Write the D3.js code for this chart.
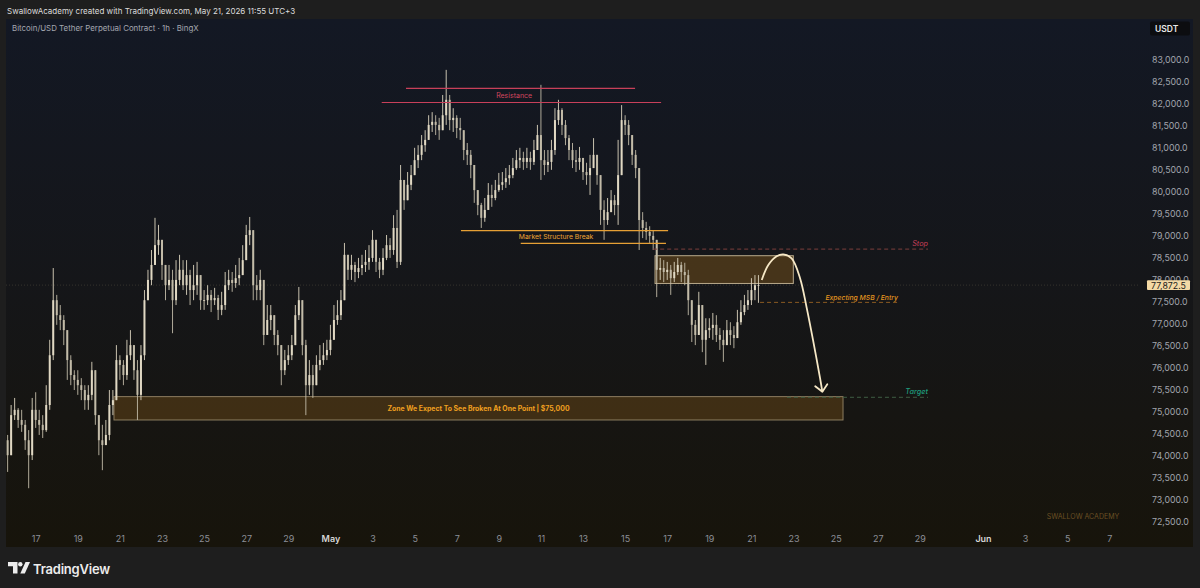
<!DOCTYPE html>
<html>
<head>
<meta charset="utf-8">
<script src="https://cdn.jsdelivr.net/npm/d3@7"></script>
<style>
  html, body { margin: 0; padding: 0; background: #1e1e1e; }
  svg { display: block; font-family: Inter, "Noto Sans", sans-serif; }
</style>
</head>
<body>
<svg id="chart" width="1200" height="588"></svg>
<script>
// 4h bars, first one opens Apr 15 12:00
const firstBar = '2026-04-15T12:00Z';
const barHours = 4;

const closes = [
  74350, 74010, 74920, 75040, 74810, 74700, 74350, 74010, 75040, 74810,
  74700, 74580, 75150, 76280, 77530, 77190, 77080, 76850, 76170, 75830,
  75720, 75600, 75490, 75260, 75380, 75940, 74920, 74350, 74240, 74470,
  75150, 75260, 76170, 76060, 75830, 76280, 76510, 75940, 75380, 76280,
  77530, 77990, 78330, 78780, 78900, 78330, 77870, 77990, 77530, 77990,
  78220, 77870, 78100, 77760, 77870, 78100, 77530, 77530, 77650, 77530,
  77580, 77310, 77420, 77870, 77990, 77920, 78030, 78100, 78440, 79010,
  79120, 77870, 77760, 77990, 76740, 77080, 77190, 76740, 76510, 75940,
  76170, 76280, 76510, 77190, 77530, 76510, 75600, 75830, 75600, 76060,
  76170, 76280, 76400, 76630, 77080, 77190, 77530, 78560, 78220, 78330,
  78170, 78260, 78330, 78400, 78490, 78900, 78400, 78220, 78490, 78780,
  78670, 79170, 78400, 80260, 79800, 80150, 80370, 80710, 80830, 81050,
  81170, 81510, 81580, 81510, 81390, 81730, 82080, 81620, 81670, 81440,
  81390, 80940, 80830, 80600, 80030, 79690, 79400, 79580, 79920, 79850,
  80030, 80150, 80210, 80300, 80370, 80530, 80710, 80760, 80670, 80760,
  80670, 80940, 81280, 80710, 80600, 80670, 80940, 81620, 81850, 81510,
  81210, 80940, 80710, 80670, 80760, 80440, 80370, 80530, 80830, 80370,
  79580, 79350, 79530, 79800, 79690, 80370, 81620, 81510, 81280, 80830,
  80530, 79350, 79170, 79080, 78990, 78900, 78220, 78260, 78170, 78220,
  78030, 78170, 78330, 78170, 78100, 77530, 76970, 76740, 77420, 76630,
  76850, 76900, 76970, 76740, 76630, 76510, 76850, 76740, 76670, 77030,
  77260, 77420, 77530, 77760, 77870, 77872.5
];

const highs = [
  74700, 74470, 75150, 75310, 75080, 75040, 74810, 74580, 75310, 75440,
  75040, 74920, 75600, 76630, 78260, 77650, 77420, 77190, 76510, 76280,
  75940, 75940, 75760, 75600, 75600, 76130, 75830, 74810, 74700, 74810,
  75490, 75490, 76510, 76280, 76170, 76630, 76850, 76400, 76170, 76510,
  77760, 78220, 78670, 79400, 79240, 78780, 78330, 78330, 78220, 78440,
  78560, 78440, 78440, 78220, 78330, 78400, 77990, 77760, 77870, 77760,
  77810, 77650, 77720, 78170, 78220, 78170, 78330, 78490, 78780, 79240,
  79420, 78900, 78100, 78220, 77990, 77420, 77420, 77080, 76850, 76510,
  76400, 76510, 76740, 77420, 77830, 77310, 76630, 76170, 76060, 76280,
  76510, 76560, 76630, 76970, 77420, 77530, 77760, 78830, 78560, 78560,
  78400, 78490, 78560, 78670, 78780, 79120, 78900, 78490, 78710, 79010,
  78940, 79460, 79580, 80600, 80260, 80440, 80600, 80990, 81050, 81280,
  81390, 81730, 81800, 81730, 81670, 82190, 82760, 82190, 81890, 81730,
  81670, 81390, 81100, 80940, 80370, 80030, 79740, 79850, 80190, 80150,
  80260, 80420, 80440, 80530, 80600, 80760, 80940, 80990, 80900, 80990,
  80900, 81170, 81510, 82420, 80940, 80940, 81170, 81890, 82080, 81890,
  81620, 81280, 81100, 80940, 81010, 80710, 80650, 80830, 81210, 80830,
  80370, 79800, 79850, 80030, 79920, 81170, 81960, 81730, 81620, 81170,
  80940, 80490, 79530, 79310, 79210, 79120, 78780, 78490, 78440, 78400,
  78330, 78400, 78490, 78400, 78380, 78220, 77530, 77080, 77720, 77420,
  77120, 77120, 77240, 77190, 76900, 76850, 77080, 77030, 76940, 77310,
  77530, 77650, 77760, 78030, 78100, 78100
];

const lows = [
  74130, 73630, 74010, 74810, 74630, 74540, 74130, 73260, 73900, 74630,
  74470, 74400, 74540, 75040, 76170, 76970, 76850, 76510, 75720, 75600,
  75490, 75380, 75260, 75040, 75040, 75260, 74700, 74010, 73670, 74240,
  74350, 74920, 75260, 75720, 75600, 75720, 76170, 75720, 74810, 75260,
  76170, 77530, 77870, 78330, 78560, 77990, 77530, 77760, 76780, 77420,
  77870, 77760, 77650, 77420, 77530, 77650, 77310, 77310, 77420, 77260,
  77420, 77080, 77190, 77310, 77760, 77720, 77810, 77870, 78100, 78440,
  78780, 77530, 77530, 77530, 76510, 76740, 76850, 76510, 76280, 75600,
  75830, 76060, 76170, 76510, 77080, 76280, 74920, 75380, 75310, 75720,
  75940, 76060, 76170, 76280, 76740, 76970, 77080, 77530, 77990, 77990,
  77940, 78030, 78100, 78170, 78220, 78400, 78170, 78030, 78100, 78440,
  78490, 78560, 78260, 78330, 79580, 79800, 80030, 80440, 80530, 80710,
  80900, 81170, 81350, 81280, 81170, 81390, 81510, 81390, 81350, 81210,
  81170, 80710, 80600, 80300, 79740, 79460, 79170, 79310, 79620, 79650,
  79800, 79990, 80030, 80080, 80150, 80300, 80490, 80530, 80490, 80530,
  80490, 80600, 80940, 80260, 80370, 80440, 80490, 80830, 81510, 81280,
  81050, 80710, 80530, 80440, 80490, 80260, 80150, 79920, 80600, 80150,
  79240, 78900, 79240, 79530, 79460, 79240, 80710, 81280, 81050, 80600,
  80300, 78670, 78940, 78900, 78830, 78670, 77600, 77990, 77940, 77990,
  77650, 77940, 78100, 77940, 77870, 77190, 76580, 76510, 76850, 76350,
  76060, 76670, 76630, 76580, 76400, 76130, 76630, 76510, 76440, 76740,
  76970, 77190, 77310, 77420, 77530, 77470
];
const firstOpen = 74500;
const lastPrice = 77872.5;

const priceTicks = d3.range(72500, 83001, 500);
const dateTicks = [
  '2026-04-17', '2026-04-19', '2026-04-21', '2026-04-23', '2026-04-25', '2026-04-27', '2026-04-29',
  '2026-05-01', '2026-05-03', '2026-05-05', '2026-05-07', '2026-05-09', '2026-05-11', '2026-05-13',
  '2026-05-15', '2026-05-17', '2026-05-19', '2026-05-21', '2026-05-23', '2026-05-25', '2026-05-27',
  '2026-05-29', '2026-06-01', '2026-06-03', '2026-06-05', '2026-06-07'
];

const resistanceLevels = [
  { from: '2026-05-04T14:10Z', to: '2026-05-15T11:20Z', price: 82340 },
  { from: '2026-05-03T10:30Z', to: '2026-05-16T17:00Z', price: 82020 }
];
const resistanceLabel = { text: 'Resistance', at: '2026-05-09T17:30Z', price: 82180 };

const msbLevels = [
  { from: '2026-05-07T04:50Z', to: '2026-05-17T01:00Z', price: 79110 },
  { from: '2026-05-10T01:00Z', to: '2026-05-16T22:35Z', price: 78820 }
];
const msbLabel = { text: 'Market Structure Break', at: '2026-05-11T17:15Z', price: 78965 };

const supplyBox = { from: '2026-05-16T10:05Z', to: '2026-05-22T23:45Z', top: 78540, bottom: 77910 };
const targetZone = {
  from: '2026-04-20T17:15Z', to: '2026-05-25T08:25Z', top: 75340, bottom: 74810,
  text: 'Zone We Expect To See Broken At One Point | $75,000'
};

const tradeLines = [
  { name: 'Stop', from: '2026-05-16T08:00Z', to: '2026-05-29T09:20Z', price: 78690 },
  { name: 'Expecting MSB / Entry', from: '2026-05-21T09:50Z', to: '2026-05-27T23:00Z', price: 77480 },
  { name: 'Target', from: '2026-05-22T16:30Z', to: '2026-05-29T09:20Z', price: 75325 }
];

const arrowPath = [
  ['2026-05-21T11:46Z', 77990], ['2026-05-21T19:14Z', 78330], ['2026-05-22T04:48Z', 78530],
  ['2026-05-22T12:24Z', 78570], ['2026-05-22T21:50Z', 78480], ['2026-05-23T07:26Z', 78030],
  ['2026-05-23T15:04Z', 77350], ['2026-05-23T22:34Z', 76590], ['2026-05-24T06:14Z', 75760],
  ['2026-05-24T08:52Z', 75450]
];

// ---- layout ----
const svg = d3.select('#chart');
const panel = { left: 6, top: 19, right: 1193, bottom: 547 };
const plotRight = 1140;
const axisY = 543;

const x = d3.scaleUtc()
  .domain([new Date('2026-04-17T00:00Z'), new Date('2026-06-07T00:00Z')])
  .range([35.7, 1109.3]);
const y = d3.scaleLinear().domain([72500, 83000]).range([521.7, 59.3]);

const defs = svg.append('defs');
const grad = defs.append('linearGradient').attr('id', 'bg').attr('x1', 0).attr('x2', 0).attr('y1', 0).attr('y2', 1);
grad.append('stop').attr('offset', '0%').attr('stop-color', '#131824');
grad.append('stop').attr('offset', '50%').attr('stop-color', '#151619');
grad.append('stop').attr('offset', '100%').attr('stop-color', '#17140b');
defs.append('clipPath').attr('id', 'plotClip')
  .append('rect').attr('x', panel.left).attr('y', panel.top)
  .attr('width', plotRight - panel.left).attr('height', 530 - panel.top);

svg.append('rect').attr('width', 1200).attr('height', 588).attr('fill', '#1e1e1e');
svg.append('rect')
  .attr('x', panel.left).attr('y', panel.top)
  .attr('width', panel.right - panel.left).attr('height', panel.bottom - panel.top)
  .attr('fill', 'url(#bg)');

svg.append('text')
  .attr('x', 7).attr('y', 13.5)
  .attr('fill', '#dcdcdc').attr('font-size', 8)
  .text('SwallowAcademy created with TradingView.com, May 21, 2026 11:55 UTC+3');

svg.append('text')
  .attr('x', 12).attr('y', 30.5)
  .attr('fill', '#a4a7b0').attr('font-size', 7.9)
  .text('Bitcoin/USD Tether Perpetual Contract · 1h · BingX');

const plot = svg.append('g').attr('clip-path', 'url(#plotClip)');

// last price line
plot.append('line')
  .attr('x1', panel.left).attr('x2', plotRight)
  .attr('y1', y(lastPrice)).attr('y2', y(lastPrice))
  .attr('stroke', '#f2d9a6').attr('stroke-opacity', 0.15)
  .attr('stroke-dasharray', '1,2');

// zones first (under candles)
function zoneRect(z, fill, stroke) {
  return plot.append('rect')
    .attr('x', x(new Date(z.from))).attr('y', y(z.top))
    .attr('width', x(new Date(z.to)) - x(new Date(z.from)))
    .attr('height', y(z.bottom) - y(z.top))
    .attr('fill', fill).attr('stroke', stroke).attr('stroke-width', 1);
}
zoneRect(targetZone, 'rgba(230,150,30,0.2)', '#8d7d60');
zoneRect(supplyBox, 'rgba(230,150,30,0.24)', '#b8aa8c');

// candles
const barMs = barHours * 3600 * 1000;
const t0 = new Date(firstBar).getTime();
const candles = closes.map((c, i) => {
  const o = i === 0 ? firstOpen : closes[i - 1];
  return {
    t: new Date(t0 + i * barMs), o, c,
    h: Math.max(highs[i], o, c),
    l: Math.min(lows[i], o, c)
  };
});
const candleG = plot.append('g');
candleG.selectAll('line').data(candles).join('line')
  .attr('x1', (d) => x(d.t)).attr('x2', (d) => x(d.t))
  .attr('y1', (d) => y(d.h)).attr('y2', (d) => y(d.l))
  .attr('stroke', (d) => (d.c >= d.o ? '#ddd5c0' : '#c2bba8'))
  .attr('stroke-width', 0.9);
candleG.selectAll('rect').data(candles).join('rect')
  .attr('x', (d) => x(d.t) - 1)
  .attr('width', 2)
  .attr('y', (d) => y(Math.max(d.o, d.c)))
  .attr('height', (d) => Math.max(0.8, Math.abs(y(d.o) - y(d.c))))
  .attr('fill', (d) => (d.c >= d.o ? '#e0d8c3' : '#c2bba8'));

// horizontal level lines
function levelLines(levels, color) {
  plot.selectAll(null).data(levels).join('line')
    .attr('x1', (d) => x(new Date(d.from))).attr('x2', (d) => x(new Date(d.to)))
    .attr('y1', (d) => y(d.price)).attr('y2', (d) => y(d.price))
    .attr('stroke', color).attr('stroke-width', 1.1);
}
levelLines(resistanceLevels, '#c8405a');
levelLines(msbLevels, '#e6a035');

plot.append('text')
  .attr('x', x(new Date(resistanceLabel.at))).attr('y', y(resistanceLabel.price))
  .attr('text-anchor', 'middle').attr('dominant-baseline', 'central')
  .attr('fill', '#d2465f').attr('font-size', 7)
  .text(resistanceLabel.text);
plot.append('text')
  .attr('x', x(new Date(msbLabel.at))).attr('y', y(msbLabel.price))
  .attr('text-anchor', 'middle').attr('dominant-baseline', 'central')
  .attr('fill', '#f0a535').attr('font-size', 6.8)
  .text(msbLabel.text);

plot.append('text')
  .attr('x', (x(new Date(targetZone.from)) + x(new Date(targetZone.to))) / 2)
  .attr('y', (y(targetZone.top) + y(targetZone.bottom)) / 2)
  .attr('text-anchor', 'middle').attr('dominant-baseline', 'central')
  .attr('fill', '#f0a020').attr('font-size', 6.9).attr('font-weight', 700)
  .text(targetZone.text);

// stop / entry / target dashed lines
const tradeColors = { 'Stop': ['#7c3f3c', '#c8405a'], 'Expecting MSB / Entry': ['#8a5a22', '#e4951f'], 'Target': ['#3f5e44', '#1f9b7c'] };
tradeLines.forEach((d) => {
  const [lineColor, textColor] = tradeColors[d.name];
  plot.append('line')
    .attr('x1', x(new Date(d.from))).attr('x2', x(new Date(d.to)))
    .attr('y1', y(d.price)).attr('y2', y(d.price))
    .attr('stroke', lineColor).attr('stroke-width', 1).attr('stroke-dasharray', '4,3');
  plot.append('text')
    .attr('x', x(new Date(d.to))).attr('y', y(d.price) - 2.8)
    .attr('text-anchor', 'end')
    .attr('fill', textColor).attr('font-size', d.name === 'Expecting MSB / Entry' ? 6.8 : 7.3)
    .attr('font-style', 'italic')
    .attr('font-weight', d.name === 'Stop' ? 400 : 500)
    .text(d.name);
});

// curved projection arrow
const arrowPts = arrowPath.map(([t, p]) => [x(new Date(t)), y(p)]);
plot.append('path')
  .attr('d', d3.line().curve(d3.curveCatmullRom.alpha(0.5))(arrowPts))
  .attr('fill', 'none').attr('stroke', '#f6e8c6').attr('stroke-width', 1.8);
const tip = arrowPts[arrowPts.length - 1];
const prev = arrowPts[arrowPts.length - 2];
const ang = Math.atan2(tip[1] - prev[1], tip[0] - prev[0]);
const headLen = 9;
const headPts = [
  [tip[0] - headLen * Math.cos(ang - 0.75), tip[1] - headLen * Math.sin(ang - 0.75)],
  tip,
  [tip[0] - headLen * Math.cos(ang + 0.75), tip[1] - headLen * Math.sin(ang + 0.75)]
];
plot.append('path')
  .attr('d', d3.line()(headPts))
  .attr('fill', 'none').attr('stroke', '#f6e8c6').attr('stroke-width', 1.8)
  .attr('stroke-linecap', 'round').attr('stroke-linejoin', 'round');

// watermark
svg.append('text')
  .attr('x', 1083).attr('y', 519)
  .attr('text-anchor', 'middle')
  .attr('fill', '#6b5024').attr('font-size', 7)
  .text('SWALLOW ACADEMY');

// price axis
const yAxis = d3.axisRight(y).tickValues(priceTicks).tickSize(0).tickPadding(0)
  .tickFormat((d) => d3.format(',.1f')(d));
const yAxisG = svg.append('g').attr('transform', 'translate(1152,0)').call(yAxis);
yAxisG.select('.domain').remove();
yAxisG.selectAll('text')
  .attr('fill', '#a2a5ad').attr('font-size', 8.8).attr('font-family', 'Inter, sans-serif');

// current price label (sits over the 78,000 tick like in the app)
const lp = svg.append('g').attr('transform', `translate(1147,${y(lastPrice)})`);
lp.append('rect').attr('x', 0).attr('y', -4.8).attr('width', 43).attr('height', 9.6)
  .attr('rx', 1).attr('fill', '#f3d9a5');
lp.append('text').attr('x', 21.5).attr('y', 0.3)
  .attr('text-anchor', 'middle').attr('dominant-baseline', 'central')
  .attr('fill', '#1b1b1b').attr('font-size', 8.8)
  .text(d3.format(',.1f')(lastPrice));

// currency box
svg.append('rect').attr('x', 1150).attr('y', 21.5).attr('width', 40).attr('height', 14)
  .attr('rx', 2).attr('fill', '#0c0d10');
svg.append('text').attr('x', 1155).attr('y', 28.8)
  .attr('dominant-baseline', 'central')
  .attr('fill', '#e8e8e8').attr('font-size', 8.5).attr('font-weight', 600)
  .text('USDT');

// time axis
const xAxis = d3.axisBottom(x)
  .tickValues(dateTicks.map((d) => new Date(d + 'T00:00Z')))
  .tickSize(0).tickPadding(0)
  .tickFormat((d) => (d.getUTCDate() === 1 ? d3.utcFormat('%b')(d) : d.getUTCDate()));
const xAxisG = svg.append('g').attr('transform', `translate(0,${axisY - 7})`).call(xAxis);
xAxisG.select('.domain').remove();
xAxisG.selectAll('text')
  .attr('font-size', 9).attr('font-family', 'Inter, sans-serif')
  .attr('fill', (d) => (d.getUTCDate() === 1 ? '#d6d6d6' : '#8c8f97'))
  .attr('font-weight', (d) => (d.getUTCDate() === 1 ? 600 : 400));

// TradingView footer logo
const logo = svg.append('g').attr('transform', 'translate(8,562)').attr('fill', '#ececec');
logo.append('path').attr('d', 'M0,0 H9.5 V11.5 H5 V4.3 H0 Z');
logo.append('circle').attr('cx', 12.3).attr('cy', 2.2).attr('r', 2.2);
logo.append('path').attr('d', 'M17.5,0 H22 L16.8,11.5 H12.3 Z');
svg.append('text')
  .attr('x', 33).attr('y', 573.5)
  .attr('fill', '#ececec').attr('font-size', 13).attr('font-weight', 600)
  .attr('letter-spacing', -0.2)
  .text('TradingView');
</script>
</body>
</html>
